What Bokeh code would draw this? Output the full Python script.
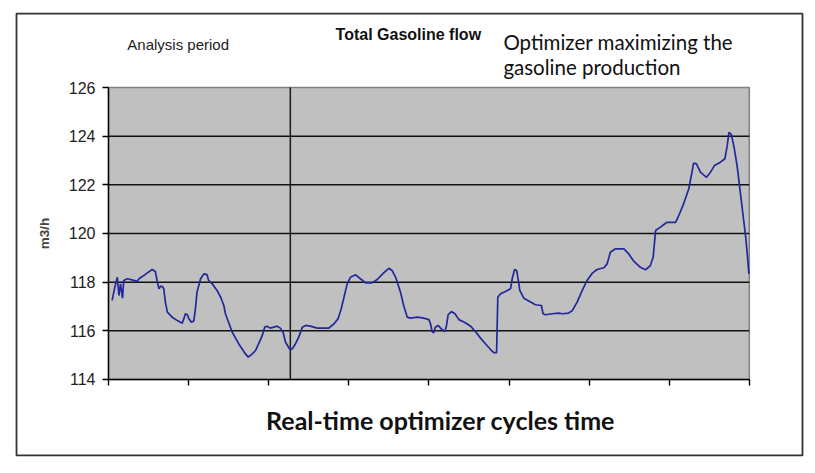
from bokeh.plotting import figure
from bokeh.models import FixedTicker, Label, Range1d, LinearAxis, BoxAnnotation
from bokeh.embed import file_html
from bokeh.resources import INLINE

# ---- data ----
cycle_time = [0.9, 1.6, 2.2, 2.6, 3.0, 3.5, 3.8, 4.7, 6.3, 7.2, 7.6, 8.8, 9.7, 10.9, 11.7,
              12.2, 12.6, 13.0, 13.4, 13.8, 14.2, 14.7, 15.9, 17.2, 18.4, 18.8, 19.2, 19.7,
              20.0, 20.7, 21.3, 21.7, 22.1, 23.0, 23.8, 24.6, 25.0, 25.9, 27.1, 28.0, 28.8,
              29.2, 30.9, 32.5, 34.2, 34.9, 35.9, 36.7, 37.5, 38.4, 39.0, 39.6, 40.4, 41.3,
              42.1, 42.9, 43.6, 44.2, 45.3, 45.9, 46.7, 47.5, 48.4, 49.2, 50.4, 52.1, 55.0,
              56.3, 57.3, 58.1, 58.9, 59.6, 60.4, 61.7, 62.9, 64.2, 65.8, 67.1, 68.7, 70.0,
              70.8, 71.7, 72.1, 72.9, 73.7, 74.6, 75.4, 77.1, 78.7, 80.0, 80.4, 80.8, 81.2,
              81.6, 82.3, 83.1, 84.0, 84.4, 84.8, 85.6, 86.5, 87.5, 89.1, 90.4, 91.6, 92.9,
              94.1, 95.4, 96.2, 96.9, 97.2, 97.9, 99.1, 100.4, 100.8, 101.4, 101.9, 102.4,
              102.7, 103.7, 105.4, 106.6, 108.1, 108.5, 109.1, 110.8, 112.4, 113.3, 114.9,
              115.8, 117.0, 118.3, 119.5, 120.8, 122.0, 123.7, 124.5, 125.3, 126.6, 128.7,
              129.9, 131.2, 132.8, 134.1, 135.3, 136.0, 136.6, 137.8, 139.1, 139.5, 141.6,
              142.4, 143.6, 144.9, 145.6, 146.1, 146.8, 147.8, 149.3, 150.3, 151.3, 152.8,
              153.9, 154.5, 154.9, 155.5, 156.2, 157.0, 157.8, 158.7, 159.1, 159.5, 159.9]
gasoline_flow = [117.25, 117.8, 118.2, 117.45, 117.93, 117.34, 118.07, 118.14, 118.07, 118.03,
                 118.14, 118.27, 118.38, 118.52, 118.44, 118.0, 117.73, 117.83, 117.83, 117.73,
                 117.18, 116.77, 116.56, 116.42, 116.31, 116.49, 116.7, 116.66, 116.52, 116.35,
                 116.4, 116.9, 117.59, 118.14, 118.34, 118.31, 118.07, 117.93, 117.66, 117.38,
                 117.04, 116.7, 115.94, 115.47, 115.05, 114.92, 115.05, 115.19, 115.47, 115.81,
                 116.15, 116.19, 116.11, 116.15, 116.19, 116.11, 115.94, 115.53, 115.23, 115.26,
                 115.47, 115.74, 116.15, 116.22, 116.19, 116.11, 116.11, 116.29, 116.49, 116.9,
                 117.45, 117.93, 118.2, 118.3, 118.14, 117.97, 117.97, 118.11, 118.38, 118.57,
                 118.48, 118.2, 118.0, 117.59, 117.04, 116.56, 116.52, 116.56, 116.52, 116.46,
                 116.29, 115.97, 115.92, 116.15, 116.22, 116.08, 115.97, 116.22, 116.66, 116.79,
                 116.7, 116.46, 116.33, 116.19, 115.97, 115.7, 115.47, 115.23, 115.1, 115.1,
                 117.38, 117.52, 117.62, 117.73, 118.14, 118.52, 118.48, 118.0, 117.66, 117.34,
                 117.18, 117.07, 117.04, 116.7, 116.66, 116.7, 116.73, 116.7, 116.73, 116.83,
                 117.18, 117.66, 118.07, 118.37, 118.52, 118.59, 118.75, 119.23, 119.37, 119.37,
                 119.16, 118.85, 118.61, 118.51, 118.68, 119.03, 120.12, 120.26, 120.42, 120.46,
                 120.46, 120.74, 121.22, 121.84, 122.45, 122.89, 122.86, 122.52, 122.31, 122.52,
                 122.79, 122.93, 123.07, 123.62, 124.16, 124.07, 123.55, 122.73, 121.63, 120.4,
                 119.85, 119.16, 118.34]
analysis_period_end = 45.4
y_ticks = [114, 116, 118, 120, 122, 124, 126]
grid_values = [116, 118, 120, 122, 124]
x_ticks = [0, 20, 40, 60, 80, 100, 120, 140, 160]

title_text = "Total Gasoline flow"
period_text = "Analysis period"
note_lines = ["Optimizer maximizing the", "gasoline production"]
x_title = "Real-time optimizer cycles time"
y_title = "m3/h"

x0, x1 = x_ticks[0], x_ticks[-1]
y0, y1 = y_ticks[0], y_ticks[-1]

# whole canvas is the frame; the chart box is drawn inside it
p = figure(width=812, height=465, output_backend="svg", toolbar_location=None,
           x_range=Range1d(-26.966, 175.78), y_range=Range1d(110.464, 129.576),
           x_axis_location=None, y_axis_location=None,
           min_border=0, background_fill_color="white", border_fill_color="white")
p.outline_line_color = None
p.grid.visible = False

# grey plot area
p.quad(left=x0, right=x1, bottom=y0, top=y1, fill_color="#C0C0C0",
       line_color="#808080", line_width=1.5)
# horizontal grid lines
p.segment(x0=x0, x1=x1, y0=grid_values, y1=grid_values, line_color="#111111",
          line_width=1.5)
# analysis period marker
p.segment(x0=[analysis_period_end], x1=[analysis_period_end], y0=y0, y1=y1,
          line_color="#1a1a1a", line_width=1.5)

p.line(cycle_time, gasoline_flow, line_color="#22289A", line_width=1.7)

# axes
yax = LinearAxis(fixed_location=x0, bounds=(y0, y1), ticker=FixedTicker(ticks=y_ticks))
yax.major_tick_out = 6
yax.major_tick_in = 0
yax.minor_tick_line_color = None
yax.axis_line_color = "black"
yax.axis_line_width = 1.4
yax.major_tick_line_width = 1.4
yax.major_label_text_font = "Liberation Sans"
yax.major_label_text_font_size = "16px"
yax.major_label_text_color = "#222222"
yax.major_label_standoff = 7
yax.axis_label = y_title
yax.axis_label_text_font = "Liberation Sans"
yax.axis_label_text_font_style = "bold"
yax.axis_label_text_font_size = "13.5px"
yax.axis_label_standoff = 14
p.add_layout(yax, "left")

xax = LinearAxis(fixed_location=y0, bounds=(x0, x1), ticker=FixedTicker(ticks=x_ticks))
xax.major_tick_out = 6
xax.major_tick_in = 0
xax.minor_tick_line_color = None
xax.axis_line_color = "black"
xax.axis_line_width = 1.4
xax.major_tick_line_width = 1.4
xax.major_label_overrides = {t: "" for t in x_ticks}
p.add_layout(xax, "below")

# outer frame of the picture
p.add_layout(BoxAnnotation(left=-22.97, right=173.28, top=129.04, bottom=110.88,
                           fill_color=None, fill_alpha=0, line_color="#333333",
                           line_alpha=1.0, line_width=1.8))

# texts
p.add_layout(Label(x=4.7, y=127.77, text=period_text, text_font="Liberation Sans",
                   text_font_size="15px", text_baseline="middle", text_color="#222222"))
p.add_layout(Label(x=56.7, y=128.18, text=title_text, text_font="Liberation Sans",
                   text_font_style="bold", text_font_size="16px", text_baseline="middle",
                   text_color="#111111"))
p.add_layout(Label(x=98.6, y=127.85, text=note_lines[0], text_font="Lato",
                   text_font_size="20.5px", text_baseline="middle", text_color="#111111"))
p.add_layout(Label(x=98.6, y=126.86, text=note_lines[1], text_font="Lato",
                   text_font_size="20.5px", text_baseline="middle", text_color="#111111"))
p.add_layout(Label(x=82.9, y=112.35, text=x_title, text_font="Lato",
                   text_font_style="bold", text_font_size="25px", text_align="center",
                   text_baseline="middle", text_color="#111111"))

open("out.html", "w").write(file_html(p, INLINE))
